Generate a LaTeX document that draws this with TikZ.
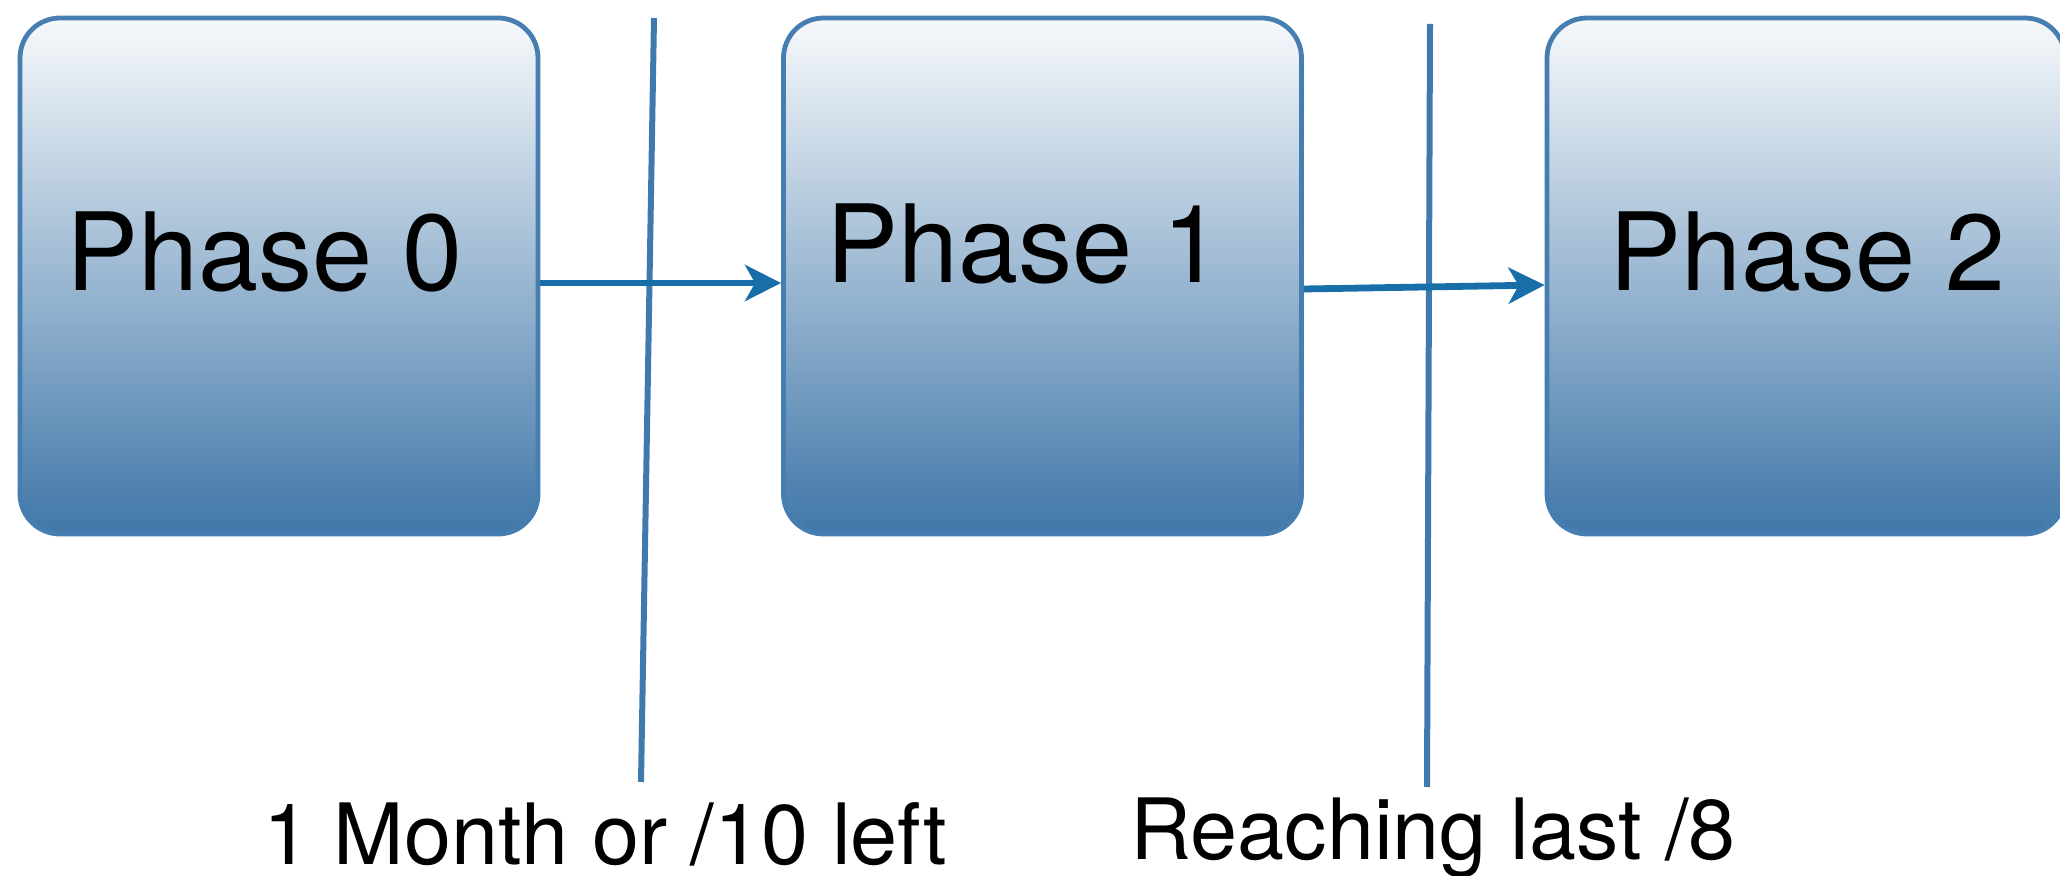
\documentclass[tikz,border=0pt]{standalone}
\usepackage{fontspec}
\setmainfont{TeX Gyre Heros}
\usetikzlibrary{arrows.meta,calc}
\definecolor{boxtop}{HTML}{F7F9FB}
\definecolor{boxbot}{HTML}{4077A9}
\definecolor{boxedge}{HTML}{467EB1}
\definecolor{arrowblue}{HTML}{176EA8}
\definecolor{sepblue}{HTML}{3F7AAD}
\tikzset{
  phasebox/.style={rectangle, rounded corners=20pt, draw=boxedge, line width=2.4pt,
    top color=boxtop, bottom color=boxbot, minimum width=259pt, minimum height=258pt,
    inner sep=0pt},
  phasetext/.style={anchor=base west, inner sep=0pt, font=\fontsize{54}{60}\selectfont},
  bottomtext/.style={anchor=base west, inner sep=0pt, font=\fontsize{42.3}{48}\selectfont},
  flowarrow/.style={draw=arrowblue, line width=3.4pt, -{Stealth[length=18pt, width=18pt, inset=5pt]}},
  sepline/.style={draw=sepblue, line width=3pt}
}
\begin{document}
\begin{tikzpicture}[x=0.5pt, y=-0.5pt]
\useasboundingbox (0,0) rectangle (2060,876);
\clip (0,0) rectangle (2060,876);
\node[phasebox] (box0) at (279,276) {};
\node[phasebox] (box1) at (1042.5,276) {};
\node[phasebox] (box2) at (1806,276) {};
\node[phasetext] (t0) at (66,291) {Phase 0};
\node[phasetext] (t1) at (826,283) {Phase 1};
\node[phasetext] (t2) at (1609,291) {Phase 2};
\coordinate (s1top) at (654,18);
\coordinate (s1bot) at (641,782);
\coordinate (s2top) at (1430,24);
\coordinate (s2bot) at (1427,787);
\draw[sepline] (s1top) -- (s1bot);
\draw[sepline] (s2top) -- (s2bot);
\draw[flowarrow] ([yshift=-3.5pt]box0.east) -- ([yshift=-3.5pt]box1.west);
\draw[flowarrow] ([yshift=-6.5pt]box1.east) -- ([yshift=-4.5pt]box2.west);
\node[bottomtext] (l1) at (263,864) {1 Month or /10 left};
\node[bottomtext] (l2) at (1130,859) {Reaching last /8};
\end{tikzpicture}
\end{document}
